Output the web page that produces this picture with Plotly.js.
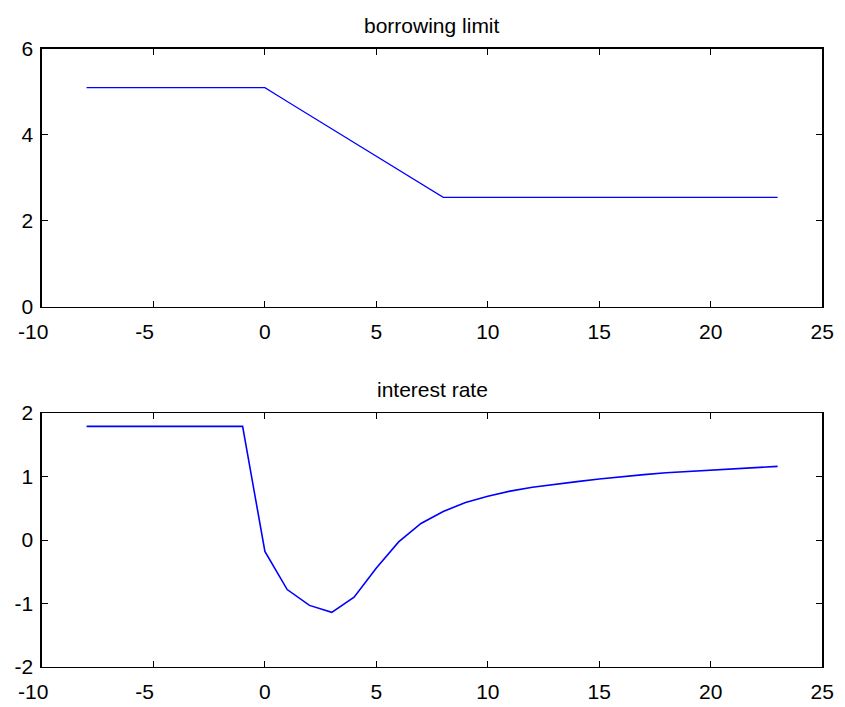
<!DOCTYPE html>
<html>
<head>
<meta charset="utf-8">
<script src="https://cdn.plot.ly/plotly-3.0.1.min.js"></script>
<style>html,body{margin:0;padding:0;background:#fff;}#chart{width:845px;height:707px;}</style>
</head>
<body>
<div id="chart"></div>
<script>
const periods = [-8,-7,-6,-5,-4,-3,-2,-1,0,1,2,3,4,5,6,7,8,9,10,11,12,13,14,15,16,17,18,19,20,21,22,23];
const borrowingLimit = [5.1,5.1,5.1,5.1,5.1,5.1,5.1,5.1,5.1,4.78,4.46,4.14,3.83,3.51,3.19,2.87,2.55,2.55,2.55,2.55,2.55,2.55,2.55,2.55,2.55,2.55,2.55,2.55,2.55,2.55,2.55,2.55];
const interestRate = [1.79,1.79,1.79,1.79,1.79,1.79,1.79,1.79,-0.18,-0.78,-1.03,-1.14,-0.9,-0.44,-0.03,0.26,0.45,0.59,0.69,0.77,0.83,0.88,0.92,0.96,1.0,1.03,1.06,1.08,1.1,1.12,1.14,1.16];
const xTicks = [-10,-5,0,5,10,15,20,25];
const xTickText = ['-10\u00a0\u00a0\u00a0', '-5\u00a0\u00a0\u00a0', '0', '5', '10', '15', '20', '25'];
const yTicksTop = [0,2,4,6];
const yTicksBottom = [-2,-1,0,1,2];
const yTickTextBottom = ['-2','-1','0','1','2'];
const topTitle = 'borrowing limit';
const bottomTitle = 'interest rate';

const font = {family: 'Liberation Sans, Arial, sans-serif', size: 21, color: '#000'};
const titleFont = {family: 'Liberation Sans, Arial, sans-serif', size: 21, color: '#000'};
const axBase = {
  showline: true, linecolor: '#000', linewidth: 1.5, mirror: 'ticks',
  ticks: 'inside', ticklen: 6, tickcolor: '#000', tickwidth: 1,
  showgrid: false, zeroline: false, tickfont: font, fixedrange: true
};
const traces = [
  {x: periods, y: borrowingLimit, type: 'scatter', mode: 'lines', line: {color: '#0000ff', width: 1.2}, xaxis: 'x', yaxis: 'y', hoverinfo: 'skip'},
  {x: periods, y: interestRate, type: 'scatter', mode: 'lines', line: {color: '#0000ff', width: 1.6}, xaxis: 'x2', yaxis: 'y2', hoverinfo: 'skip'}
];
const layout = {
  width: 845, height: 707, showlegend: false,
  paper_bgcolor: '#fff', plot_bgcolor: '#fff',
  margin: {l: 0, r: 0, t: 0, b: 0},
  font: font,
  xaxis: Object.assign({}, axBase, {domain: [0.0497, 0.973], range: [-10, 25], tickvals: xTicks, ticktext: xTickText, ticklabelstandoff: 5, anchor: 'y'}),
  yaxis: Object.assign({}, axBase, {domain: [0.5658, 0.9307], range: [0, 6], tickvals: yTicksTop, ticklabelstandoff: 3, anchor: 'x'}),
  xaxis2: Object.assign({}, axBase, {domain: [0.0497, 0.973], range: [-10, 25], tickvals: xTicks, ticktext: xTickText, ticklabelstandoff: 5, anchor: 'y2'}),
  yaxis2: Object.assign({}, axBase, {domain: [0.0566, 0.4158], range: [-2, 2], tickvals: yTicksBottom, ticktext: yTickTextBottom, ticklabelstandoff: 3, anchor: 'x2'}),
  annotations: [
    {text: topTitle, xref: 'paper', yref: 'paper', x: 0.5115, y: 1 - 25/707, xanchor: 'center', yanchor: 'middle', showarrow: false, font: titleFont},
    {text: bottomTitle, xref: 'paper', yref: 'paper', x: 0.5115, y: 1 - 389/707, xanchor: 'center', yanchor: 'middle', showarrow: false, font: titleFont}
  ]
};
Plotly.newPlot('chart', traces, layout, {staticPlot: true, displayModeBar: false});
</script>
</body>
</html>
